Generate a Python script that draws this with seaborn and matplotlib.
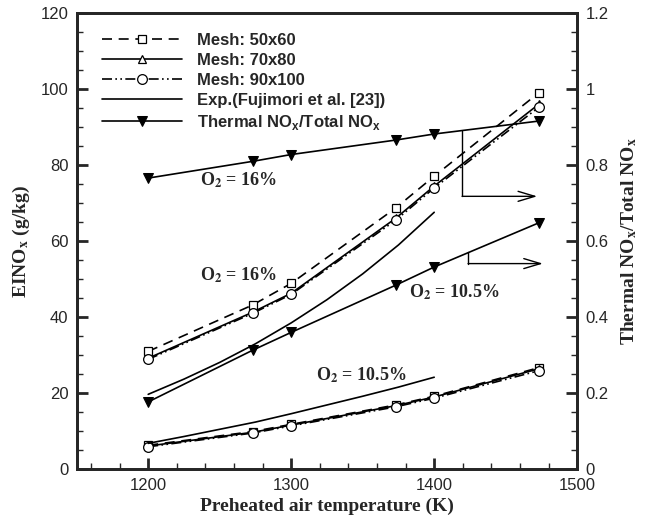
import matplotlib
matplotlib.use("Agg")
import matplotlib.pyplot as plt
from matplotlib.ticker import MultipleLocator, FuncFormatter
import seaborn as sns

# Preheated air temperature (K)
temps = [1200, 1273, 1300, 1373, 1400, 1473]

# EINOx (g/kg), O2 = 16%
mesh50_16 = [31.0, 43.2, 48.9, 68.7, 77.1, 99.0]
mesh70_16 = [29.2, 41.3, 46.3, 66.0, 74.5, 96.0]
mesh90_16 = [28.9, 41.0, 46.0, 65.5, 74.0, 95.2]

# EINOx (g/kg), O2 = 10.5%
mesh50_105 = [6.3, 9.9, 11.8, 16.9, 19.2, 26.7]
mesh70_105 = [6.1, 9.7, 11.6, 16.7, 19.0, 26.4]
mesh90_105 = [5.9, 9.5, 11.4, 16.4, 18.7, 25.9]

# Experiment (Fujimori et al.)
exp_temps = [1200, 1225, 1250, 1275, 1300, 1325, 1350, 1375, 1400]
exp_16 = [19.7, 23.7, 28.1, 33.0, 38.5, 44.6, 51.4, 59.0, 67.6]
exp_105 = [6.8, 8.6, 10.5, 12.4, 14.6, 16.9, 19.2, 21.6, 24.2]

# Thermal NOx / Total NOx (right axis)
thermal_16 = [0.766, 0.810, 0.828, 0.866, 0.882, 0.916]
thermal_105 = [0.177, 0.313, 0.360, 0.484, 0.532, 0.648]

sns.set_style("ticks")
plt.rcParams["font.family"] = ["Liberation Sans", "DejaVu Sans"]
plt.rcParams["mathtext.fontset"] = "custom"
plt.rcParams["mathtext.rm"] = "Liberation Sans:bold"
plt.rcParams["mathtext.bf"] = "Liberation Sans:bold"
plt.rcParams["axes.linewidth"] = 2.0

serif_bold = {"family": "Liberation Serif", "weight": "bold", "size": 14}
note_font = {"family": "Liberation Serif", "weight": "bold", "size": 13}

fig, ax = plt.subplots(figsize=(6.5, 5.26), dpi=100)
fig.subplots_adjust(left=0.118, right=0.888, top=0.975, bottom=0.108)
ax2 = ax.twinx()

lw = 1.2
dashed = (0, (6, 4))
dashdotdot = (0, (6, 2, 1, 2, 1, 2))
mk = dict(markerfacecolor="white", markeredgecolor="black", markeredgewidth=0.9)

sns.lineplot(x=temps, y=mesh50_16, ax=ax, color="black", lw=lw, linestyle=dashed,
             marker="s", markersize=5.5, label="Mesh: 50x60", **mk)
sns.lineplot(x=temps, y=mesh70_16, ax=ax, color="black", lw=lw, linestyle="-",
             marker="^", markersize=5.5, label="Mesh: 70x80", **mk)
sns.lineplot(x=temps, y=mesh90_16, ax=ax, color="black", lw=lw, linestyle=dashdotdot,
             marker="o", markersize=7, label="Mesh: 90x100", **mk)
sns.lineplot(x=exp_temps, y=exp_16, ax=ax, color="black", lw=lw,
             label="Exp.(Fujimori et al. [23])")

sns.lineplot(x=temps, y=mesh50_105, ax=ax, color="black", lw=lw, linestyle=dashed,
             marker="s", markersize=5.5, label="_nolegend_", **mk)
sns.lineplot(x=temps, y=mesh70_105, ax=ax, color="black", lw=lw, linestyle="-",
             marker="^", markersize=5.5, label="_nolegend_", **mk)
sns.lineplot(x=temps, y=mesh90_105, ax=ax, color="black", lw=lw, linestyle=dashdotdot,
             marker="o", markersize=7, label="_nolegend_", **mk)
sns.lineplot(x=exp_temps, y=exp_105, ax=ax, color="black", lw=lw, label="_nolegend_")

sns.lineplot(x=temps, y=thermal_16, ax=ax2, color="black", lw=lw, marker="v",
             markersize=7, markerfacecolor="black", markeredgecolor="black",
             label=r"Thermal NO$_\mathrm{x}$/Total NO$_\mathrm{x}$")
sns.lineplot(x=temps, y=thermal_105, ax=ax2, color="black", lw=lw, marker="v",
             markersize=7, markerfacecolor="black", markeredgecolor="black",
             label="_nolegend_")

# arrows pointing to the right axis
ax.plot([1419.5, 1419.5], [89.1, 71.8], color="black", lw=1.0)
ax.annotate("", xy=(1472, 71.8), xytext=(1419.5, 71.8),
            arrowprops=dict(arrowstyle="->,head_length=1.0,head_width=0.3",
                            color="black", lw=1.0, mutation_scale=12,
                            shrinkA=0, shrinkB=0))
ax.plot([1423.7, 1423.7], [57.2, 54.1], color="black", lw=1.0)
ax.annotate("", xy=(1476, 54.1), xytext=(1423.7, 54.1),
            arrowprops=dict(arrowstyle="->,head_length=1.0,head_width=0.3",
                            color="black", lw=1.0, mutation_scale=12,
                            shrinkA=0, shrinkB=0))

# O2 labels
for tx, ty, s in [(1263, 76.0, r"O$_\mathbf{2}$ = 16%"), (1263, 51.0, r"O$_\mathbf{2}$ = 16%"),
                  (1414, 46.5, r"O$_\mathbf{2}$ = 10.5%"), (1349, 24.7, r"O$_\mathbf{2}$ = 10.5%")]:
    t = ax.text(tx, ty, s, ha="center", va="center", fontdict=note_font)
    t.set_math_fontfamily("stix")

# axes
ax.set_xlim(1150, 1500)
ax.set_ylim(0, 120)
ax2.set_ylim(0, 1.2)
ax.xaxis.set_major_locator(MultipleLocator(100))
ax.xaxis.set_minor_locator(MultipleLocator(20))
ax.yaxis.set_major_locator(MultipleLocator(20))
ax.yaxis.set_minor_locator(MultipleLocator(5))
ax2.yaxis.set_major_locator(MultipleLocator(0.2))
ax2.yaxis.set_minor_locator(MultipleLocator(0.05))
ax2.yaxis.set_major_formatter(FuncFormatter(lambda v, p: f"{v:.1f}".rstrip("0").rstrip(".")))
for a in (ax, ax2):
    a.tick_params(which="major", direction="in", length=8, width=2, labelsize=12, pad=6)
    a.tick_params(which="minor", direction="in", length=4, width=1)
    for sp in a.spines.values():
        sp.set_linewidth(2)
        sp.set_visible(True)

ax.set_xlabel("Preheated air temperature (K)", fontdict=serif_bold, labelpad=4)
yl = ax.set_ylabel(r"EINO$_\mathbf{x}$ (g/kg)", fontdict=serif_bold, labelpad=6)
yl2 = ax2.set_ylabel(r"Thermal NO$_\mathbf{x}$/Total NO$_\mathbf{x}$", fontdict=serif_bold,
                     rotation=90, labelpad=8)
for t in (yl, yl2):
    t.set_math_fontfamily("stix")

# legend
ax.get_legend().remove()
h1, l1 = ax.get_legend_handles_labels()
h2, l2 = ax2.get_legend_handles_labels()
ax2.get_legend().remove()
leg = ax2.legend(h1 + h2, l1 + l2, loc="upper left", frameon=False,
                 bbox_to_anchor=(0.02, 0.99), handlelength=4.8, handletextpad=0.9,
                 labelspacing=0.3, prop={"family": "Liberation Sans", "weight": "bold", "size": 12})

fig.savefig("out.png", dpi=100)
